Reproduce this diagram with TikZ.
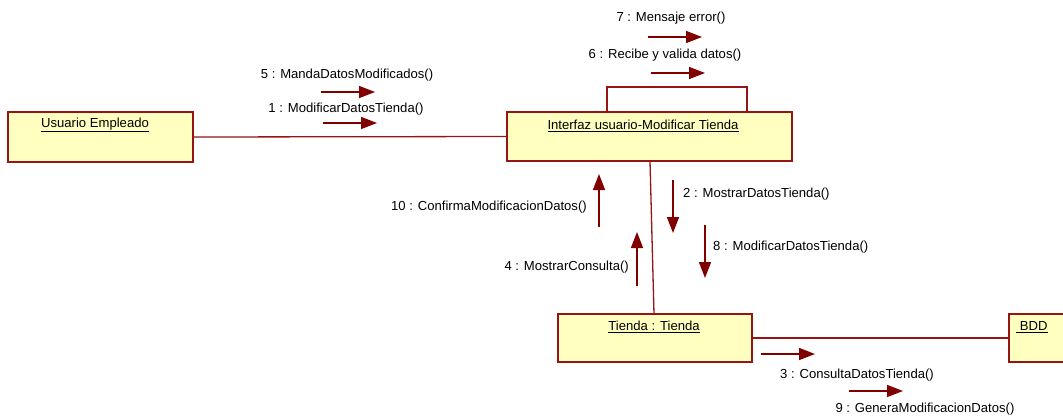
\documentclass[tikz,border=0pt]{standalone}
\usepackage{fontspec}
\setmainfont{Liberation Sans}
\usetikzlibrary{arrows.meta}
\definecolor{umlred}{RGB}{150,20,20}
\definecolor{umlfill}{RGB}{255,255,192}
\definecolor{msgred}{RGB}{128,0,0}
\begin{document}
\begin{tikzpicture}[x=1pt,y=-1pt,
  obj/.style={draw=umlred,fill=umlfill,line width=1.4pt,inner sep=0,outer sep=0,anchor=north west},
  link/.style={draw=umlred,line width=1.3pt},
  msg/.style={draw=msgred,line width=1.5pt,-{Triangle[length=16pt,width=12pt,fill=msgred]}},
  lbl/.style={font=\fontsize{13.1}{15}\selectfont,inner sep=0,text=black},
]
\clip (0,0) rectangle (1063,418);
\fill[white] (0,0) rectangle (1063,418);
% objects
\node[obj,minimum width=185,minimum height=50] (user) at (8,112) {};
\node[obj,minimum width=285,minimum height=49] (iface) at (507,112) {};
\node[obj,minimum width=194,minimum height=48] (tienda) at (558,314) {};
\node[obj,minimum width=90,minimum height=48] (bdd) at (1009,314) {};
\node[lbl] (userT) at (95,125) {\underline{Usuario Empleado}};
\node[lbl] (ifaceT) at (643,126) {\underline{Interfaz usuario-Modificar Tienda}};
\node[lbl] (tiendaT) at (654,327) {\underline{Tienda : Tienda}};
\node[lbl,anchor=west] (bddT) at (1016,327) {\underline{\ BDD}};
% links
\draw[link] (user.east) -- (iface.west);
\draw[link] ([xshift=0.5]iface.south) -- ([xshift=-1]tienda.north);
\draw[link] (tienda.east) -- (bdd.west);
\draw[link] ([xshift=-42.5]iface.north) -- ++(0,-25) -| ([xshift=97.5]iface.north);
% messages
\coordinate (m5s) at (321,92);  \coordinate (m5e) at (375,92);
\coordinate (m1s) at (323,123); \coordinate (m1e) at (377,123);
\coordinate (m7s) at (648,37);  \coordinate (m7e) at (702,37);
\coordinate (m6s) at (651,73);  \coordinate (m6e) at (705,73);
\coordinate (m10s) at (599,227); \coordinate (m10e) at (599,174);
\coordinate (m4s) at (637,286); \coordinate (m4e) at (637,232);
\coordinate (m2s) at (673,180); \coordinate (m2e) at (673,233);
\coordinate (m8s) at (705,225); \coordinate (m8e) at (705,278);
\coordinate (m3s) at (761,354); \coordinate (m3e) at (815,354);
\coordinate (m9s) at (849,391); \coordinate (m9e) at (903,391);
\draw[msg] (m5s) -- (m5e);
\draw[msg] (m1s) -- (m1e);
\draw[msg] (m7s) -- (m7e);
\draw[msg] (m6s) -- (m6e);
\draw[msg] (m10s) -- (m10e);
\draw[msg] (m4s) -- (m4e);
\draw[msg] (m2s) -- (m2e);
\draw[msg] (m8s) -- (m8e);
\draw[msg] (m3s) -- (m3e);
\draw[msg] (m9s) -- (m9e);
% message labels
\node[lbl] (l5) at (347,75) {5 : MandaDatosModificados()};
\node[lbl] (l1) at (346,109) {1 : ModificarDatosTienda()};
\node[lbl] (l7) at (671,18) {7 : Mensaje error()};
\node[lbl] (l6) at (665,55) {6 : Recibe y valida datos()};
\node[lbl,anchor=east] (l10) at (587,207) {10 : ConfirmaModificacionDatos()};
\node[lbl,anchor=east] (l4) at (629,267) {4 : MostrarConsulta()};
\node[lbl,anchor=west] (l2) at (683,194) {2 : MostrarDatosTienda()};
\node[lbl,anchor=west] (l8) at (713,247) {8 : ModificarDatosTienda()};
\node[lbl] (l3) at (857,375) {3 : ConsultaDatosTienda()};
\node[lbl] (l9) at (925,409) {9 : GeneraModificacionDatos()};
\end{tikzpicture}
\end{document}
